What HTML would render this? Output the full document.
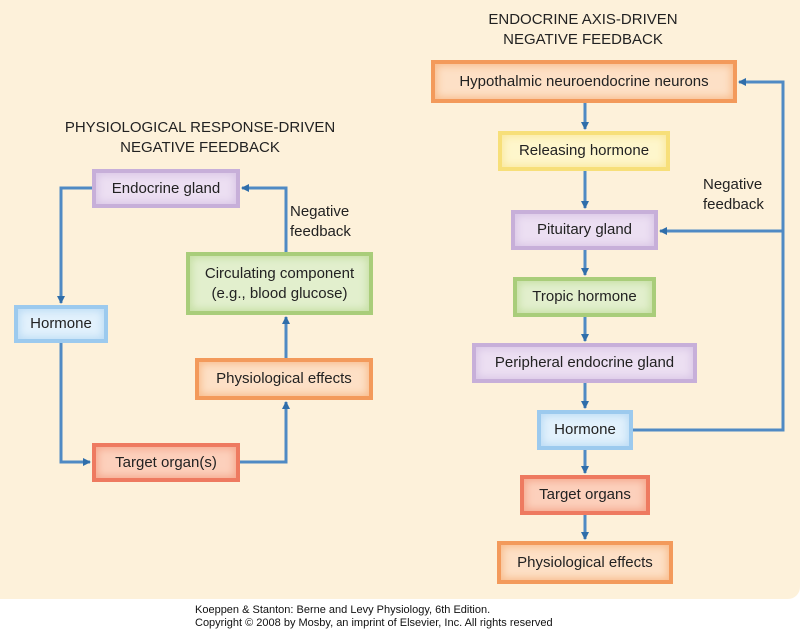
<!DOCTYPE html>
<html><head><meta charset="utf-8"><style>
body{margin:0;width:800px;height:631px;background:#fff;font-family:"Liberation Sans",sans-serif;position:relative;overflow:hidden}
.bg{position:absolute;left:0;top:0;width:800px;height:599px;background:#fdf1da;border-bottom-right-radius:12px}
.b{position:absolute;display:flex;align-items:center;justify-content:center;text-align:center;font-size:15px;color:#222;box-sizing:border-box;line-height:20px}
.pu{background:#ecdff2;box-shadow:inset 0 0 0 4px #c7afd9,inset 0 0 8px 6px #d9c6e6}
.or{background:#fde0c6;box-shadow:inset 0 0 0 4px #f39a5b,inset 0 0 8px 6px #f8bd8e}
.re{background:#fcd0bc;box-shadow:inset 0 0 0 4px #ee7a60,inset 0 0 8px 6px #f5a88e}
.bl{background:#e2f1fc;box-shadow:inset 0 0 0 4px #9ccaee,inset 0 0 8px 6px #bcdcf5}
.gr{background:#e2efcd;box-shadow:inset 0 0 0 4px #a9cd7a,inset 0 0 8px 6px #c6dfa4}
.ye{background:#fef6cc;box-shadow:inset 0 0 0 4px #f7df79,inset 0 0 8px 6px #fae9a0}
.t{position:absolute;text-align:center;font-size:15px;color:#222;line-height:20px}
.f{position:absolute;left:195px;font-size:11px;color:#111;line-height:13px}
</style></head><body>
<div class="bg"></div>
<svg width="800" height="631" style="position:absolute;left:0;top:0">
<defs><marker id="a" markerWidth="8" markerHeight="8" refX="7" refY="4" orient="auto" markerUnits="userSpaceOnUse"><path d="M0,0 L8,4 L0,8 Z" fill="#2f6eaa"/></marker></defs>
<g fill="none" stroke="#4f8ac4" stroke-width="3">
<path d="M92,188 H61 V303" marker-end="url(#a)"/>
<path d="M61,343 V462 H90" marker-end="url(#a)"/>
<path d="M240,462 H286 V402" marker-end="url(#a)"/>
<path d="M286,358 V317" marker-end="url(#a)"/>
<path d="M286,252 V188 H242" marker-end="url(#a)"/>
<path d="M585,103 V129" marker-end="url(#a)"/>
<path d="M585,171 V208" marker-end="url(#a)"/>
<path d="M585,250 V275" marker-end="url(#a)"/>
<path d="M585,317 V341" marker-end="url(#a)"/>
<path d="M585,383 V408" marker-end="url(#a)"/>
<path d="M585,450 V473" marker-end="url(#a)"/>
<path d="M585,515 V539" marker-end="url(#a)"/>
<path d="M633,430 H783 V82 H739" marker-end="url(#a)"/>
<path d="M783,231 H660" marker-end="url(#a)"/>
</g></svg>
<div class="t" style="left:30px;top:118px;width:340px">PHYSIOLOGICAL RESPONSE-DRIVEN<br>NEGATIVE FEEDBACK</div>
<div class="t" style="left:443px;top:10px;width:280px">ENDOCRINE AXIS-DRIVEN<br>NEGATIVE FEEDBACK</div>
<div class="t" style="left:290px;top:202px;width:80px;text-align:left">Negative<br>feedback</div>
<div class="t" style="left:703px;top:175px;width:80px;text-align:left">Negative<br>feedback</div>
<div class="b pu" style="left:92px;top:169px;width:148px;height:39px">Endocrine gland</div>
<div class="b bl" style="left:14px;top:305px;width:94px;height:38px">Hormone</div>
<div class="b re" style="left:92px;top:443px;width:148px;height:39px">Target organ(s)</div>
<div class="b or" style="left:195px;top:358px;width:178px;height:42px">Physiological effects</div>
<div class="b gr" style="left:186px;top:252px;width:187px;height:63px">Circulating component<br>(e.g., blood glucose)</div>
<div class="b or" style="left:431px;top:60px;width:306px;height:43px">Hypothalmic neuroendocrine neurons</div>
<div class="b ye" style="left:498px;top:131px;width:172px;height:40px">Releasing hormone</div>
<div class="b pu" style="left:511px;top:210px;width:147px;height:40px">Pituitary gland</div>
<div class="b gr" style="left:513px;top:277px;width:143px;height:40px">Tropic hormone</div>
<div class="b pu" style="left:472px;top:343px;width:225px;height:40px">Peripheral endocrine gland</div>
<div class="b bl" style="left:537px;top:410px;width:96px;height:40px">Hormone</div>
<div class="b re" style="left:520px;top:475px;width:130px;height:40px">Target organs</div>
<div class="b or" style="left:497px;top:541px;width:176px;height:43px">Physiological effects</div>
<div class="f" style="top:604px">Koeppen &amp; Stanton: Berne and Levy Physiology, 6th Edition.</div>
<div class="f" style="top:617px">Copyright © 2008 by Mosby, an imprint of Elsevier, Inc. All rights reserved</div>
</body></html>
